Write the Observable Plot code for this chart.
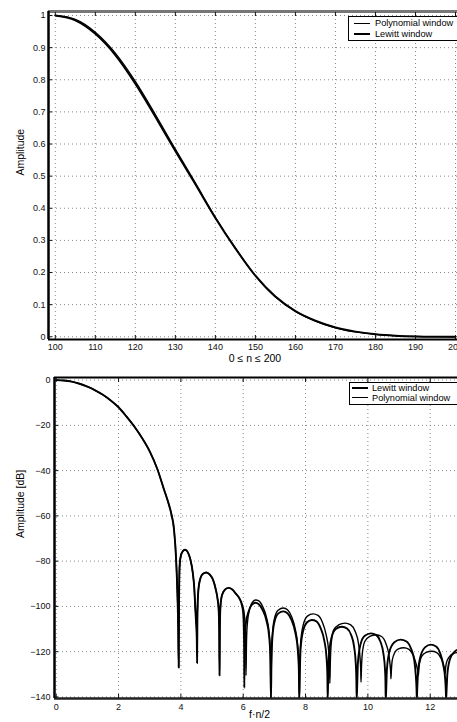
<!DOCTYPE html>
<html><head><meta charset="utf-8">
<script src="https://cdn.jsdelivr.net/npm/d3@7"></script>
<script src="https://cdn.jsdelivr.net/npm/@observablehq/plot@0.6"></script>
<style>
html,body{margin:0;padding:0;background:#fff;}
body{width:457px;height:722px;overflow:hidden;position:relative;font-family:"Liberation Sans",Arial,sans-serif;}
#top,#bot{position:absolute;left:0;width:470px;}
#top{top:0;} #bot{top:370px;}
.legend{position:absolute;background:#fff;border:1px solid #000;width:130px;font-size:9.2px;color:#000;}
.sw{position:absolute;background:#000;}
.lab{position:absolute;white-space:nowrap;line-height:10px;height:10px;}
</style></head>
<body>
<div id="top"></div><div id="bot"></div>
<div class="legend" style="left:348px;top:16px;height:23px;">
  <div class="sw" style="left:5px;top:6px;width:16px;height:1px;"></div>
  <div class="lab" style="left:26px;top:1px;">Polynomial window</div>
  <div class="sw" style="left:5px;top:16px;width:16px;height:2px;"></div>
  <div class="lab" style="left:26px;top:12px;">Lewitt window</div>
</div>
<div class="legend" style="left:349px;top:382px;height:21px;">
  <div class="sw" style="left:2px;top:4px;width:16px;height:2px;"></div>
  <div class="lab" style="left:22px;top:0px;">Lewitt window</div>
  <div class="sw" style="left:2px;top:14px;width:16px;height:1px;"></div>
  <div class="lab" style="left:22px;top:9.5px;">Polynomial window</div>
</div>
<script>
// ---------- top panel data ----------
const topXDomain = [98.3, 201.5];
const topYDomain = [-0.0085, 1.0125];
const topXTicks = [100, 110, 120, 130, 140, 150, 160, 170, 180, 190, 200];
const topXTickLabels = ["100","110","120","130","140","150","160","170","180","190","200"];
const topYTicks = [0, 0.1, 0.2, 0.3, 0.4, 0.5, 0.6, 0.7, 0.8, 0.9, 1];
const topYTickLabels = ["0","0.1","0.2","0.3","0.4","0.5","0.6","0.7","0.8","0.9","1"];
const nValues = [100,105,110,115,120,125,130,135,140,145,150,155,160,165,170,175,180,185,190,195,200];
const lewittTop = [1.000,0.985,0.943,0.877,0.788,0.685,0.578,0.475,0.370,0.275,0.190,0.125,0.080,0.050,0.029,0.016,0.008,0.0035,0.0012,0.0003,0.0];
const polyTop   = [1.000,0.988,0.948,0.883,0.795,0.692,0.584,0.479,0.372,0.276,0.190,0.124,0.079,0.049,0.028,0.015,0.0075,0.003,0.001,0.0002,0.0];
const topXLabel = "0 \u2264 n \u2264 200";
const topYLabel = "Amplitude";

// ---------- bottom panel data ----------
const botXDomain = [-0.055, 13.1];
const botYDomain = [-140.7, 1.15];
const botXTicks = [0, 2, 4, 6, 8, 10, 12];
const botXTickLabels = ["0","2","4","6","8","10","12"];
const botYTicks = [0, -20, -40, -60, -80, -100, -120, -140];
const botYTickLabels = ["0","\u221220","\u221240","\u221260","\u221280","\u2212100","\u2212120","\u2212140"];
const botXLabel = "f\u00b7n/2";
const botYLabel = "Amplitude [dB]";

const mainF  = [0,0.25,0.5,0.75,1.0,1.25,1.5,1.75,2.0,2.25,2.5,2.75,3.0,3.25,3.45,3.6,3.7,3.78,3.85,3.89,3.915,3.93];
const mainDb = [0,-0.2,-0.7,-1.6,-2.9,-4.5,-6.5,-9,-12,-16,-20.4,-25.5,-31.5,-39.5,-48,-54.3,-59.5,-66,-80,-95,-110,-127];

const lewittF = [
  3.94,3.96,4.0,4.07,4.14,4.22,4.3,4.38,4.43,4.46,4.49,4.51,4.52,
  4.53,4.55,4.6,4.7,4.82,4.93,5.03,5.12,5.18,5.21,5.23,5.24,
  5.25,5.27,5.32,5.42,5.53,5.65,5.77,5.88,5.96,6.0,6.02,6.03,6.035,
  6.05,6.08,6.18,6.28,6.39,6.5,6.62,6.74,6.83,6.87,6.89,
  6.905,6.93,7.0,7.12,7.29,7.42,7.55,7.67,7.75,7.785,7.80,
  7.815,7.84,7.92,8.05,8.2,8.35,8.48,8.6,8.67,8.70,8.71,
  8.725,8.75,8.83,8.97,9.17,9.33,9.46,9.56,9.61,9.63,9.64,
  9.655,9.68,9.76,9.9,10.1,10.27,10.4,10.5,10.55,10.565,10.57,
  10.585,10.61,10.69,10.85,11.05,11.24,11.38,11.49,11.54,11.56,11.57,
  11.585,11.61,11.69,11.84,12.02,12.19,12.32,12.42,12.48,12.50,12.51,
  12.525,12.55,12.63,12.78,12.95,13.1
];
const lewittDb = [
  -100,-82,-77.5,-75.5,-75,-76,-79,-85,-92,-100,-108,-114,-125,
  -105,-95,-89,-85.7,-85,-86,-88.2,-92.5,-97,-101,-110,-130.5,
  -110,-100,-95,-92.5,-91.8,-92.5,-94.5,-96.5,-99.5,-103,-110,-120,-136,
  -116,-108,-102,-99.2,-98.4,-99,-101.5,-106,-113,-122,-141,
  -126,-115,-107,-103.2,-102.2,-103,-106,-111.5,-119,-128,-141,
  -130,-119,-111,-107,-106,-106.6,-109.5,-115,-122,-130,-141,
  -133,-122,-114,-110,-109,-109.8,-112.5,-118,-125,-132,-141,
  -136,-125,-117,-113,-111.9,-112.7,-115.5,-121,-128,-134,-141,
  -138,-128,-120,-115.8,-114.7,-115.5,-118.5,-124,-131,-136,-141,
  -136,-129,-122,-118,-116.9,-117.7,-120.7,-126,-132,-137,-141,
  -137,-130,-123.5,-120,-119,-119.5
];
const polyF = [
  3.94,3.96,4.0,4.07,4.14,4.22,4.3,4.38,4.43,4.46,4.49,4.51,4.52,
  4.53,4.55,4.6,4.7,4.82,4.93,5.03,5.12,5.18,5.21,5.23,5.24,
  5.25,5.27,5.32,5.42,5.53,5.65,5.77,5.88,5.96,6.02,6.06,6.08,6.09,
  6.105,6.13,6.21,6.3,6.4,6.5,6.62,6.74,6.83,6.87,6.89,
  6.905,6.93,7.0,7.12,7.29,7.42,7.55,7.67,7.75,7.785,7.80,
  7.815,7.84,7.92,8.06,8.24,8.4,8.54,8.66,8.74,8.77,8.78,
  8.795,8.82,8.9,9.06,9.27,9.45,9.59,9.7,9.75,9.77,9.78,
  9.795,9.82,9.9,10.06,10.26,10.44,10.58,10.68,10.72,10.735,10.74,
  10.755,10.78,10.86,10.98,11.15,11.32,11.45,11.55,11.6,11.615,11.62,
  11.635,11.66,11.73,11.87,12.05,12.21,12.33,12.42,12.46,12.475,12.48,
  12.495,12.52,12.6,12.75,12.92,13.1
];
const polyDb = [
  -100,-82,-77.5,-75.5,-75,-76,-79,-85,-92,-100,-106,-110,-114,
  -103,-95,-89,-85.7,-85,-86,-88.2,-92.5,-97,-101,-110,-128,
  -110,-100,-95,-92.5,-91.8,-92.5,-94.5,-96.5,-99,-102,-108,-118,-130.5,
  -116,-108,-101,-98,-97.2,-97.6,-100,-104.5,-111.5,-120,-141,
  -124,-113.5,-105.5,-101.7,-100.7,-101.5,-104.5,-110,-117.5,-126.5,-141,
  -127,-116.5,-108.5,-104.3,-103.3,-104,-107,-112.5,-119.5,-126,-134,
  -125,-117,-110.5,-108.2,-107.4,-108.2,-111,-116.5,-123,-128,-133.5,
  -127,-121,-115.5,-113.2,-112.5,-113.3,-116.5,-122,-127,-130,-132,
  -128,-124,-120.5,-118.8,-118.3,-119,-121.5,-125.5,-128.5,-130,-130.5,
  -127.5,-125,-122,-120.3,-119.8,-120.4,-122.5,-125.5,-128,-129.5,-129.8,
  -127,-125,-122.5,-120.8,-120.3,-120.8
];

// ---------- build ----------
const font = "Liberation Sans, Arial, Helvetica, sans-serif";
const gridStyle = {stroke: "#8a8a8a", strokeOpacity: 1, strokeDasharray: "1,3", strokeWidth: 1};
const lab = (labels, ticks) => d => labels[ticks.indexOf(d)];

const topLew = nValues.map((n, i) => ({n, v: lewittTop[i]}));
const topPoly = nValues.map((n, i) => ({n, v: polyTop[i]}));

const topChart = Plot.plot({
  width: 470, height: 370,
  marginLeft: 48, marginRight: 9, marginTop: 11, marginBottom: 31,
  style: {fontFamily: font, fontSize: "9px", background: "transparent", maxWidth: "none", overflow: "visible", color: "#111"},
  x: {domain: topXDomain, label: null},
  y: {domain: topYDomain, label: null},
  marks: [
    Plot.gridX(topXTicks, gridStyle),
    Plot.gridY(topYTicks, gridStyle),
    Plot.line(topPoly, {x: "n", y: "v", stroke: "#000", strokeWidth: 1.3, curve: "monotone-x", clip: true}),
    Plot.line(topLew, {x: "n", y: "v", stroke: "#000", strokeWidth: 2, curve: "monotone-x", clip: true}),
    Plot.ruleY([topYDomain[1]], {stroke: "#777", strokeWidth: 3}),
    Plot.ruleY([topYDomain[0]], {stroke: "#000", strokeWidth: 2}),
    Plot.ruleX([topXDomain[0]], {stroke: "#000", strokeWidth: 2.5}),
    Plot.axisX(topXTicks, {anchor: "bottom", tickSize: -4, tickFormat: () => "", label: null}),
    Plot.axisX(topXTicks, {anchor: "top", tickSize: -4, tickFormat: () => "", label: null}),
    Plot.axisY(topYTicks, {anchor: "left", tickSize: -4, tickFormat: () => "", label: null}),
    Plot.axisX(topXTicks, {anchor: "bottom", tickSize: 0, tickPadding: 4.5, tickFormat: lab(topXTickLabels, topXTicks), label: null, fontSize: 9}),
    Plot.axisY(topYTicks, {anchor: "left", tickSize: 0, tickPadding: 3, tickFormat: lab(topYTickLabels, topYTicks), label: null, fontSize: 9}),
    Plot.text([topXLabel], {frameAnchor: "bottom", dy: 22, fontSize: 10.5, text: d => d, fill: "#000"}),
    Plot.text([topYLabel], {frameAnchor: "left", dx: -28, rotate: -90, fontSize: 10.5, text: d => d, fill: "#000"})
  ]
});
document.getElementById("top").appendChild(topChart);

const mainLobe = mainF.map((f, i) => ({f, v: mainDb[i]}));
const botLew = mainLobe.concat(lewittF.map((f, i) => ({f, v: lewittDb[i]})));
const botPoly = mainLobe.concat(polyF.map((f, i) => ({f, v: polyDb[i]})));

const botChart = Plot.plot({
  width: 470, height: 352,
  marginLeft: 54, marginRight: 6, marginTop: 7, marginBottom: 24,
  style: {fontFamily: font, fontSize: "9px", background: "transparent", maxWidth: "none", overflow: "visible", color: "#111"},
  x: {domain: botXDomain, label: null},
  y: {domain: botYDomain, label: null},
  marks: [
    Plot.gridX(botXTicks, gridStyle),
    Plot.gridY(botYTicks, gridStyle),
    Plot.line(botPoly, {x: "f", y: "v", stroke: "#000", strokeWidth: 1.4, curve: "monotone-x", clip: true}),
    Plot.line(botLew, {x: "f", y: "v", stroke: "#000", strokeWidth: 1.9, curve: "monotone-x", clip: true}),
    Plot.ruleY([botYDomain[1]], {stroke: "#000", strokeWidth: 2}),
    Plot.ruleY([botYDomain[0]], {stroke: "#222", strokeWidth: 2.5}),
    Plot.ruleX([botXDomain[0]], {stroke: "#000", strokeWidth: 2.5}),
    Plot.axisX(botXTicks, {anchor: "bottom", tickSize: -4, tickFormat: () => "", label: null}),
    Plot.axisX(botXTicks, {anchor: "top", tickSize: -4, tickFormat: () => "", label: null}),
    Plot.axisY(botYTicks, {anchor: "left", tickSize: -4, tickFormat: () => "", label: null}),
    Plot.axisX(botXTicks, {anchor: "bottom", tickSize: 0, tickPadding: 5, tickFormat: lab(botXTickLabels, botXTicks), label: null, fontSize: 9}),
    Plot.axisY(botYTicks, {anchor: "left", tickSize: 0, tickPadding: 4, tickFormat: lab(botYTickLabels, botYTicks), label: null, fontSize: 9}),
    Plot.text([botXLabel], {frameAnchor: "bottom", dy: 19, fontSize: 10.5, text: d => d, fill: "#000"}),
    Plot.text([botYLabel], {frameAnchor: "left", dx: -34, rotate: -90, fontSize: 10.5, text: d => d, fill: "#000"})
  ]
});
document.getElementById("bot").appendChild(botChart);
</script>
</body></html>
